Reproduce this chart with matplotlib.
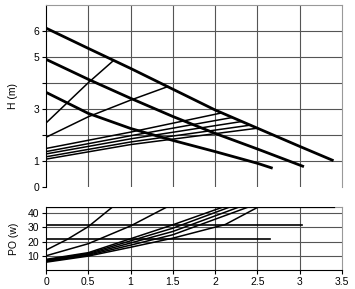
import matplotlib
matplotlib.use("Agg")
import matplotlib.pyplot as plt
import numpy as np

plt.rcParams['font.family'] = ['Liberation Sans', 'DejaVu Sans']

# ---- Head curves (H in m vs Q) ----
q_max = [0, 0.5, 1.0, 1.5, 2.0, 2.5, 3.0, 3.4]
h_max = [6.1, 5.32, 4.55, 3.75, 2.95, 2.25, 1.55, 1.0]
q_mid = [0, 0.5, 1.0, 1.5, 2.0, 2.5, 3.05]
h_mid = [4.9, 4.13, 3.4, 2.7, 2.05, 1.45, 0.77]
q_low = [0, 0.5, 1.0, 1.5, 2.0, 2.5, 2.68]
h_low = [3.63, 2.82, 2.24, 1.78, 1.35, 0.9, 0.71]

# thin operating lines in head chart
hq_a = [0, 0.5, 0.79]
hh_a = [2.45, 4.0, 4.83]
hq_b = [0, 0.5, 1.0, 1.44]
hh_b = [1.9, 2.69, 3.33, 3.85]
hq_bundle = [[0, 1.0, 2.08], [0, 1.0, 2.2], [0, 1.0, 2.3], [0, 1.0, 2.4], [0, 1.0, 2.5]]
hh_bundle = [[1.47, 2.1, 2.84], [1.35, 1.96, 2.66], [1.26, 1.84, 2.5], [1.15, 1.72, 2.36], [1.06, 1.62, 2.25]]

# ---- Power chart (PO in W vs Q) ----
p_levels = [44, 32, 22]
p_level_ends = [3.4, 3.03, 2.65]
pq_a = [0, 0.25, 0.5, 0.78]
pp_a = [14, 21.5, 30.5, 44]
pq_b = [0, 0.5, 1.0, 1.42]
pp_b = [10, 18.5, 31, 44]
pq_bundle = [[0, 0.5, 1.0, 1.5, 2.08],
             [0, 0.5, 1.0, 1.5, 2.16],
             [0, 0.5, 1.0, 1.5, 2.27],
             [0, 0.5, 1.0, 1.5, 2.38],
             [0, 0.5, 1.0, 1.5, 2.12, 2.5]]
pp_bundle = [[7.5, 12.2, 22, 31.8, 44],
             [7.0, 11.6, 20.5, 29.4, 44],
             [6.5, 11.0, 19, 27.1, 44],
             [6.0, 10.4, 17.5, 24.8, 44],
             [5.5, 9.8, 16, 22.4, 32, 44]]

x_ticks = [0, 0.5, 1, 1.5, 2, 2.5, 3, 3.5]
x_labels = ['0', '0.5', '1', '1.5', '2', '2.5', '3', '3.5']
h_ticks = [0, 1, 2, 3, 4, 5, 6]
h_labels = ['0', '1', '', '3', '', '5', '6']
p_ticks = [10, 20, 30, 40]

fig = plt.figure(figsize=(3.55, 2.89), dpi=100)
ax1 = fig.add_axes([0.1296, 0.354, 0.8338, 0.6297])
ax2 = fig.add_axes([0.1296, 0.0657, 0.8338, 0.219])

grid_c = '#555555'
spine_c = '#999999'
fs = 7.5

# Top chart
for xv in x_ticks[1:-1]:
    ax1.axvline(xv, color=grid_c, lw=0.8, zorder=1)
for yv in h_ticks[1:]:
    ax1.axhline(yv, color=grid_c, lw=0.8, zorder=1)
for q, h in [(q_max, h_max), (q_mid, h_mid), (q_low, h_low)]:
    ax1.plot(q, h, color='black', lw=2.0, zorder=3, solid_capstyle='butt')
ax1.plot(hq_a, hh_a, color='black', lw=1.1, zorder=3)
ax1.plot(hq_b, hh_b, color='black', lw=1.1, zorder=3)
for q, h in zip(hq_bundle, hh_bundle):
    ax1.plot(q, h, color='black', lw=1.1, zorder=3)
ax1.set_xlim(0, 3.5)
ax1.set_ylim(0, 7)
ax1.set_xticks([])
ax1.set_yticks(h_ticks)
ax1.set_yticklabels(h_labels, fontsize=fs)
ax1.tick_params(axis='y', length=3, width=0.8, pad=2)
ax1.spines['bottom'].set_visible(False)
ax1.spines['top'].set_color(spine_c)
ax1.spines['right'].set_color(spine_c)
ax1.spines['left'].set_color('black')
for s in ax1.spines.values():
    s.set_linewidth(0.8)
ax1.set_ylabel('H (m)', fontsize=fs, labelpad=11)

# Bottom chart
for xv in x_ticks[1:-1]:
    ax2.axvline(xv, color=grid_c, lw=0.8, zorder=1)
for yv in p_ticks:
    ax2.axhline(yv, color=grid_c, lw=0.8, zorder=1)
for lvl, end, lw in zip(p_levels, p_level_ends, [1.6, 1.2, 1.2]):
    ax2.plot([0, end], [lvl, lvl], color='black', lw=lw, zorder=3)
ax2.plot(pq_a, pp_a, color='black', lw=1.1, zorder=3)
ax2.plot(pq_b, pp_b, color='black', lw=1.1, zorder=3)
for q, p in zip(pq_bundle, pp_bundle):
    ax2.plot(q, p, color='black', lw=1.1, zorder=3)
ax2.set_xlim(0, 3.5)
ax2.set_ylim(0, 44.5)
ax2.set_xticks(x_ticks)
ax2.set_xticklabels(x_labels, fontsize=fs)
ax2.set_yticks(p_ticks)
ax2.set_yticklabels([str(t) for t in p_ticks], fontsize=fs)
ax2.tick_params(length=3, width=0.8, pad=2)
ax2.spines['top'].set_color(spine_c)
ax2.spines['right'].set_color(spine_c)
for s in ax2.spines.values():
    s.set_linewidth(0.8)
ax2.set_ylabel('PO (w)', fontsize=fs, labelpad=6)

fig.savefig('out.png', dpi=100)
